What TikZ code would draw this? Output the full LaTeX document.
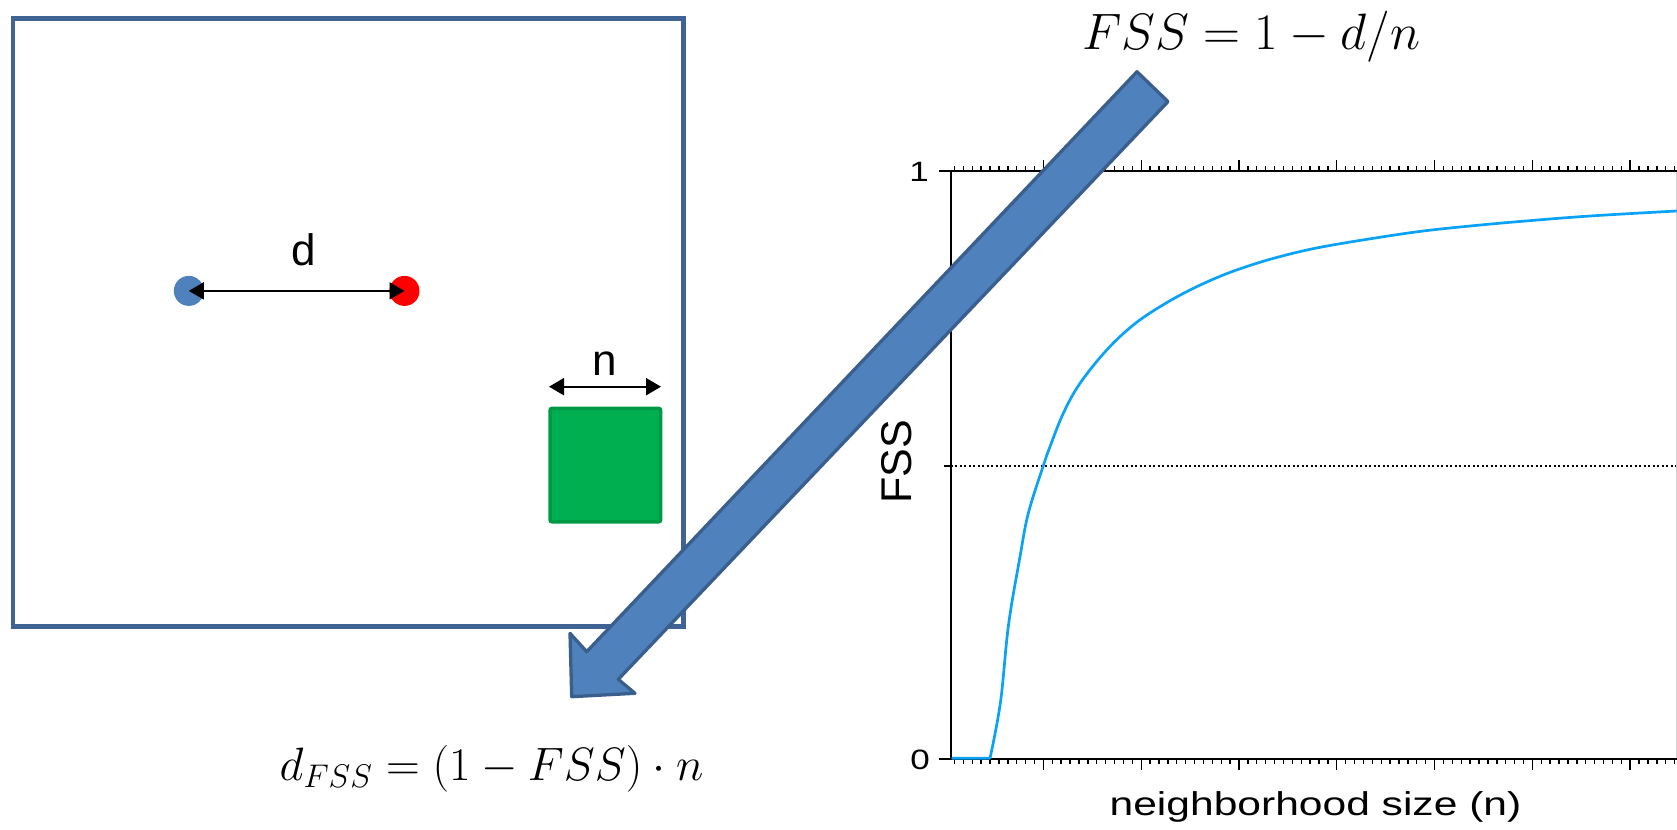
\RequirePackage{fix-cm}
\documentclass[tikz,border=0pt]{standalone}
\usepackage{fontspec}
\newfontfamily\plotfont{Liberation Sans}
\usetikzlibrary{arrows.meta}
\definecolor{frameblue}{HTML}{3F6493}
\definecolor{arrowfill}{HTML}{4F81BD}
\definecolor{arrowline}{HTML}{3A5F8D}
\definecolor{dotblue}{HTML}{4F81BD}
\definecolor{dotred}{HTML}{FF0000}
\definecolor{boxgreen}{HTML}{00AF50}
\definecolor{boxline}{HTML}{009A46}
\definecolor{curveblue}{HTML}{0AA2F7}
\tikzset{
  dimline/.style={black, line width=1pt, {Triangle[length=7.5pt,width=8.5pt]}-{Triangle[length=7.5pt,width=8.5pt]}},
  dot/.style={circle, inner sep=0pt, minimum size=15pt},
  lbl/.style={font=\plotfont\fontsize{22}{26}\selectfont, inner sep=0pt},
  axisline/.style={black, line width=1pt},
  tickline/.style={black, line width=0.7pt},
  ticklbl/.style={font=\plotfont\fontsize{14}{16}\selectfont, inner sep=0pt, xscale=1.25},
  refline/.style={black, line width=1pt, dash pattern=on 1pt off 1.25pt},
  fsscurve/.style={curveblue, line width=1.35pt, line join=round},
  bigarrow/.style={fill=arrowfill, draw=arrowline, line width=1.65pt, line join=round},
  eqn/.style={inner sep=0pt, anchor=base}
}
\begin{document}
\begin{tikzpicture}[x=0.5pt,y=-0.5pt]
\useasboundingbox (0,0) rectangle (1677,830);

% left panel frame
\draw[frameblue, line width=2.15pt] (13,18.5) rectangle (683.5,626.5);

% points and distance d
\node[dot, fill=dotblue] (pb) at (188.8,290.9) {};
\node[dot, fill=dotred] (pr) at (404.5,290.9) {};
\draw[dimline] (pb.center) -- (pr.center);
\node[lbl, anchor=base] (dl) at (304,265.6) {d};

% neighborhood box
\node[draw=boxline, fill=boxgreen, line width=1.75pt, minimum width=55.35pt, minimum height=56.7pt, rounded corners=1pt, inner sep=0pt] (nbox) at (605.35,465.1) {};
\coordinate (nL) at (549,386.7);
\coordinate (nR) at (661,386.7);
\draw[dimline] (nL) -- (nR);
\node[lbl, anchor=base] (nl) at (605,375.5) {n};

% plot
\draw[refline] (950.5,465.7) -- (1677,465.7);
\draw[gray!35, line width=0.5pt] (1676.3,171) -- (1676.3,758.5);
\foreach \k in {0,...,81} {
  \pgfmathsetmacro\xx{954.5+8.89*\k}
  \pgfmathsetmacro\tl{ifthenelse(mod(\k+1,11)==0,11,5)}
  \draw[tickline] (\xx,171) -- ++(0,-\tl);
  \draw[tickline] (\xx,758.5) -- ++(0,\tl);
}
\draw[axisline] (939,171) -- (1677,171);
\draw[axisline] (939,758.5) -- (1677,758.5);
\draw[axisline] (950.5,171) -- (950.5,758.5);
\draw[axisline] (944,465.7) -- (950.5,465.7);

\draw[fsscurve] (951.7,758.3) -- plot[smooth, tension=0.6] coordinates {
 (990,758.3) (1000.5,702) (1008.5,625) (1020,556.7) (1028.3,513.3) (1043.3,465.7)
 (1050,446.7) (1063.3,413.3) (1080,383.3) (1106.7,350) (1133.3,325) (1160,306.7)
 (1190,290) (1223.3,275) (1256.7,263.3) (1290,254) (1323.3,246.7) (1373.3,238.3)
 (1423.3,231) (1473.3,225.7) (1523.3,221.2) (1590,216) (1676.7,211)};

\node[ticklbl] (one) at (919,172) {1};
\node[ticklbl] (zero) at (920,759.7) {0};
\node[rotate=90, font=\plotfont\fontsize{21.5}{24}\selectfont, inner sep=0pt] (ylab) at (897,462) {FSS};
\node[anchor=base, xscale=1.29, font=\plotfont\fontsize{16.5}{19}\selectfont, inner sep=0pt] (xlab) at (1315.5,815) {neighborhood size (n)};

% equations
\node[eqn, font=\fontsize{25.6}{30}\selectfont] (eqtop) at (1251,49.3) {$FSS = 1 - d/n$};
\node[eqn, font=\fontsize{23.4}{28}\selectfont] (eqbot) at (491.6,780) {$d_{FSS} = (1 - FSS)\cdot n$};

% big arrow
\draw[bigarrow] (1137,71.7) -- (1168,101.6) -- (618.3,679.3) -- (635,693.3) -- (571.7,696.7) -- (570,633.3) -- (586.7,651.7) -- cycle;
\end{tikzpicture}
\end{document}
